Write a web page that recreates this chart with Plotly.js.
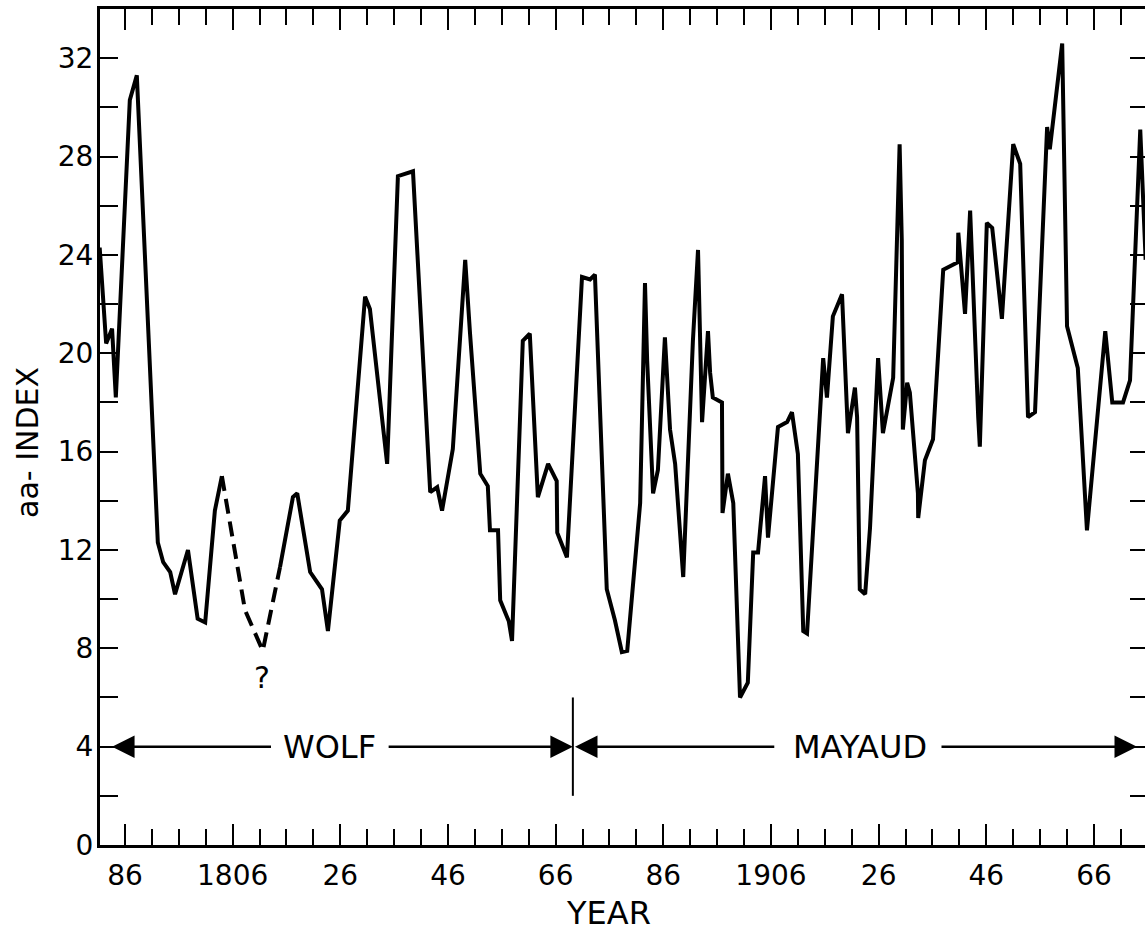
<!DOCTYPE html>
<html>
<head>
<meta charset="utf-8">
<script src="https://cdn.plot.ly/plotly-3.0.1.min.js"></script>
<style>
html, body { margin: 0; padding: 0; overflow: hidden; background: #fff; }
#chart { width: 1150px; height: 931px; }
</style>
</head>
<body>
<div id="chart"></div>
<script>
// Solid series before the estimated gap (Wolf-based)
const yearsA = [1781.3, 1782.5, 1783.6, 1784.3, 1786.9, 1788.2, 1792.1, 1793.1, 1794.4, 1795.3, 1797.7, 1799.5, 1800.9, 1802.7, 1804.0];
const aaA    = [24.3, 20.4, 21.0, 18.2, 30.3, 31.3, 12.3, 11.5, 11.1, 10.2, 12.0, 9.2, 9.05, 13.6, 15.0];

// Uncertain (dashed) stretch
const yearsEst = [1804.0, 1808.3, 1811.6, 1814.8];
const aaEst    = [15.0, 9.55, 7.9, 11.3];

// Solid series after the gap (Wolf then Mayaud)
const yearsB = [1814.8, 1817.2, 1818.0, 1820.4, 1822.6, 1823.7, 1825.9, 1827.4, 1830.6, 1831.5,
  1834.7, 1836.7, 1839.5, 1842.7, 1844.0, 1844.9, 1846.9, 1849.2, 1850.1, 1852.0,
  1853.4, 1853.8, 1855.3, 1855.7, 1857.3, 1857.9, 1859.9, 1861.2, 1862.7, 1864.6,
  1866.2, 1866.3, 1868.1, 1870.9, 1872.4, 1873.3, 1875.5, 1877.0, 1878.3, 1879.3,
  1881.7, 1882.6, 1883.0, 1884.1, 1885.0, 1886.3, 1887.25, 1888.2, 1889.7, 1891.5,
  1892.45, 1893.2, 1894.3, 1894.7, 1895.2, 1896.9, 1897.0, 1898.0, 1899.0, 1900.25,
  1901.7, 1902.7, 1903.6, 1904.9, 1905.45, 1907.3, 1909.0, 1909.9, 1911.0, 1912.0,
  1912.7, 1914.6, 1915.7, 1916.4, 1917.5, 1919.2, 1920.3, 1921.6, 1922.0, 1922.5,
  1923.5, 1924.4, 1925.9, 1926.8, 1928.7, 1929.9, 1930.3, 1930.5, 1931.3, 1931.8,
  1933.3, 1933.35, 1934.6, 1936.1, 1938.0, 1940.7, 1940.8, 1942.05, 1943.0, 1944.5,
  1944.8, 1946.1, 1947.1, 1948.9, 1951.0, 1952.3, 1953.75, 1955.05, 1957.3, 1957.8,
  1960.1, 1961.0, 1963.0, 1964.7, 1968.1, 1969.4, 1971.4, 1972.7, 1974.6, 1975.6];
const aaB = [11.3, 14.15, 14.3, 11.1, 10.4, 8.7, 13.2, 13.6, 22.3, 21.8,
  15.5, 27.2, 27.4, 14.35, 14.55, 13.6, 16.1, 23.8, 20.8, 15.1,
  14.6, 12.8, 12.8, 9.95, 9.1, 8.3, 20.5, 20.8, 14.15, 15.5,
  14.8, 12.7, 11.7, 23.1, 23.0, 23.2, 10.4, 9.15, 7.85, 7.9,
  13.9, 22.85, 19.7, 14.3, 15.25, 20.65, 16.9, 15.5, 10.9, 20.5,
  24.2, 17.2, 20.9, 19.2, 18.2, 18.0, 13.5, 15.1, 13.9, 6.0,
  6.6, 11.9, 11.9, 15.0, 12.5, 17.0, 17.2, 17.6, 15.9, 8.7,
  8.6, 15.8, 19.8, 18.2, 21.5, 22.4, 16.75, 18.6, 17.4, 10.4,
  10.2, 12.9, 19.8, 16.75, 19.0, 28.5, 24.6, 16.9, 18.8, 18.4,
  14.3, 13.3, 15.65, 16.5, 23.4, 23.7, 24.9, 21.6, 25.8, 17.4,
  16.2, 25.3, 25.1, 21.4, 28.5, 27.7, 17.4, 17.6, 29.2, 28.3,
  32.6, 21.1, 19.4, 12.8, 20.9, 18.0, 18.0, 18.9, 29.1, 23.8];

// Axis tick labels
const xTickVals = [1786, 1806, 1826, 1846, 1866, 1886, 1906, 1926, 1946, 1966];
const xTickText = ["86", "1806", "26", "46", "66", "86", "1906", "26", "46", "66"];
const yTickVals = [0, 4, 8, 12, 16, 20, 24, 28, 32];

// Source labels and their spans
const wolfLabel = "WOLF", mayaudLabel = "MAYAUD";
const sourceLevel = 4;
const wolfStart = 1783.6, wolfCenter = 1823.9, wolfRightLineStart = 1834.7, splitYear = 1869.2;
const mayaudLeftTip = 1869.6, mayaudCenter = 1922.5, mayaudRightLineStart = 1937.4, mayaudEnd = 1974.0;

const lineStyle = {color: '#000', width: 4};
const traces = [
  {x: yearsA, y: aaA, mode: 'lines', line: lineStyle, hoverinfo: 'x+y', showlegend: false},
  {x: yearsEst, y: aaEst, mode: 'lines', line: {color: '#000', width: 4, dash: '15px,8px'}, hoverinfo: 'x+y', showlegend: false},
  {x: yearsB, y: aaB, mode: 'lines', line: lineStyle, hoverinfo: 'x+y', showlegend: false}
];

const font = {family: 'DejaVu Sans, Liberation Sans, sans-serif', color: '#000'};
const arrowCommon = {showarrow: true, arrowhead: 2, arrowsize: 1.8, arrowwidth: 2.5, arrowcolor: '#000',
  xref: 'x', yref: 'y', axref: 'x', ayref: 'y', standoff: 0};

const layout = {
  width: 1150, height: 931,
  margin: {l: 100, r: 2, t: 9, b: 86},
  paper_bgcolor: '#fff', plot_bgcolor: '#fff',
  font: Object.assign({size: 28}, font),
  xaxis: {
    range: [1781.36, 1976.04], showgrid: false, zeroline: false,
    showline: true, linecolor: '#000', linewidth: 3, mirror: 'allticks',
    tickmode: 'array', tickvals: xTickVals, ticktext: xTickText,
    ticks: 'inside', ticklen: 21, tickwidth: 2, tickcolor: '#000',
    ticklabelstandoff: 3,
    tickfont: Object.assign({size: 28}, font),
    minor: {tick0: 1786, dtick: 5, ticks: 'inside', ticklen: 16, tickwidth: 2, tickcolor: '#000', showgrid: false}
  },
  yaxis: {
    range: [0, 34], showgrid: false, zeroline: false,
    showline: true, linecolor: '#000', linewidth: 3, mirror: 'allticks',
    tickmode: 'array', tickvals: yTickVals,
    ticks: 'inside', ticklen: 18, tickwidth: 2, tickcolor: '#000',
    ticklabelstandoff: -2,
    tickfont: Object.assign({size: 28}, font),
    minor: {tick0: 0, dtick: 2, ticks: 'inside', ticklen: 18, tickwidth: 2, tickcolor: '#000', showgrid: false}
  },
  shapes: [
    {type: 'line', xref: 'x', yref: 'y', x0: splitYear, x1: splitYear, y0: 2, y1: 6, line: {color: '#000', width: 2}}
  ],
  annotations: [
    Object.assign({}, arrowCommon, {text: wolfLabel, x: wolfStart, y: sourceLevel, ax: wolfCenter, ay: sourceLevel,
      borderpad: 11, font: Object.assign({size: 32}, font)}),
    Object.assign({}, arrowCommon, {text: '', x: splitYear, y: sourceLevel, ax: wolfRightLineStart, ay: sourceLevel}),
    Object.assign({}, arrowCommon, {text: mayaudLabel, x: mayaudLeftTip, y: sourceLevel, ax: mayaudCenter, ay: sourceLevel,
      borderpad: 18, font: Object.assign({size: 32}, font)}),
    Object.assign({}, arrowCommon, {text: '', x: mayaudEnd, y: sourceLevel, ax: mayaudRightLineStart, ay: sourceLevel}),
    {text: '?', x: 1811.45, y: 6.83, xref: 'x', yref: 'y', showarrow: false, font: Object.assign({size: 30}, font)},
    {text: 'aa- INDEX', textangle: -90, xref: 'paper', yref: 'y', x: -0.0687, y: 16.35, showarrow: false,
      xanchor: 'center', yanchor: 'middle', font: Object.assign({size: 30}, font)},
    {text: 'YEAR', xref: 'x', yref: 'paper', x: 1875.9, y: -0.0813, showarrow: false,
      xanchor: 'center', yanchor: 'middle', font: Object.assign({size: 32}, font)}
  ]
};

Plotly.newPlot('chart', traces, layout, {staticPlot: true, displayModeBar: false});
</script>
</body>
</html>
